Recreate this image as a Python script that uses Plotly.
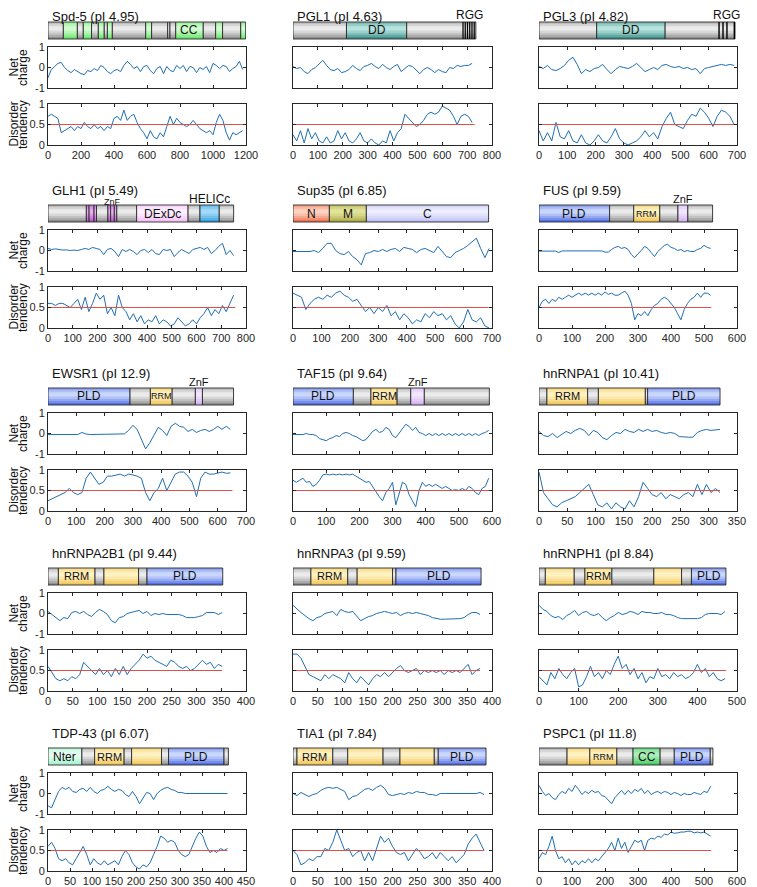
import plotly.graph_objects as go

W, H = 757, 887

# ---------------- data ----------------
NAMES = ["Spd-5", "PGL1", "PGL3", "GLH1", "Sup35", "FUS", "EWSR1", "TAF15", "hnRNPA1",
         "hnRNPA2B1", "hnRNPA3", "hnRNPH1", "TDP-43", "TIA1", "PSPC1"]
PI = ["4.95", "4.63", "4.82", "5.49", "6.85", "9.59", "12.9", "9.64", "10.41",
      "9.44", "9.59", "8.84", "6.07", "7.84", "11.8"]
LENGTHS = [1198, 730, 693, 757, 688, 522, 652, 592, 320, 352, 376, 472, 408, 384, 522]
AXIS_MAX = [1200, 800, 700, 800, 700, 600, 700, 600, 350, 400, 400, 500, 450, 400, 600]
TICK_STEP = [200, 100, 100, 100, 100, 100, 100, 100, 50, 50, 50, 100, 50, 50, 100]
SAMPLE_STEP = [20, 15, 15, 15, 15, 10, 15, 10, 8, 8, 8, 10, 8, 8, 10]

SPD5_NET = [-0.5, -0.1, 0.05, 0.2, 0.25, 0.0, -0.15, -0.25, -0.1, -0.2, -0.3, -0.35, -0.15, -0.2, -0.05,
            -0.15, 0.1, 0.0, -0.2, -0.3, -0.15, -0.1, -0.2, 0.1, 0.3, 0.15, -0.05, 0.05, -0.2, 0.05,
            0.1, -0.15, -0.3, -0.05, 0.05, -0.3, 0.05, -0.15, -0.2, 0.1, -0.05, 0.1, -0.2, 0.05, 0.0,
            -0.25, 0.0, -0.1, 0.05, -0.25, 0.2, 0.1, -0.05, 0.1, 0.05, -0.2, -0.05, 0.05, 0.3, -0.1]
SPD5_DIS = [0.7, 0.75, 0.7, 0.65, 0.3, 0.35, 0.4, 0.45, 0.35, 0.45, 0.4, 0.55, 0.45, 0.4, 0.5, 0.4,
            0.45, 0.35, 0.45, 0.4, 0.65, 0.7, 0.6, 0.85, 0.6, 0.7, 0.75, 0.55, 0.4, 0.3, 0.15, 0.35,
            0.2, 0.15, 0.3, 0.2, 0.45, 0.7, 0.5, 0.65, 0.55, 0.5, 0.45, 0.5, 0.6, 0.5, 0.4, 0.35, 0.3,
            0.35, 0.25, 0.55, 0.75, 0.6, 0.3, 0.12, 0.3, 0.25, 0.3, 0.35]

PGL1_NET = [0.05, -0.05, 0.0, -0.2, -0.3, -0.1, 0.0, 0.2, 0.35, 0.1, -0.1, -0.15, -0.05, -0.25, -0.2,
            -0.1, 0.1, -0.05, -0.15, 0.05, 0.1, 0.2, 0.05, -0.05, 0.15, 0.0, -0.1, 0.05, 0.15, -0.2,
            -0.05, 0.1, 0.05, -0.15, -0.3, -0.1, 0.0, -0.1, -0.25, -0.1, -0.2, -0.25, 0.0, -0.05, 0.1,
            0.05, 0.1, 0.1, 0.2]
PGL1_DIS = [0.25, 0.1, 0.35, 0.05, 0.4, 0.15, 0.3, 0.1, 0.05, 0.2, 0.05, 0.1, 0.35, 0.15, 0.3, 0.1,
            0.05, 0.15, 0.3, 0.1, 0.05, 0.15, 0.05, 0.0, 0.1, 0.05, 0.35, 0.1, 0.3, 0.4, 0.75, 0.65,
            0.55, 0.45, 0.5, 0.6, 0.75, 0.8, 0.75, 0.8, 0.95, 0.9, 0.85, 0.7, 0.5, 0.7, 0.75, 0.7, 0.55]

PGL3_NET = [0.05, -0.05, 0.1, -0.1, -0.15, -0.05, 0.1, 0.35, 0.5, 0.15, -0.3, -0.1, -0.2, -0.05, 0.0,
            0.15, -0.1, -0.3, -0.1, 0.05, 0.0, -0.05, 0.05, 0.2, 0.0, -0.2, -0.1, 0.0, -0.1, 0.1, 0.15,
            0.05, 0.0, 0.05, -0.05, 0.0, -0.1, -0.05, -0.3, -0.05, 0.0, 0.05, 0.1, 0.15, 0.1, 0.15, 0.1]
PGL3_DIS = [0.35, 0.1, 0.3, 0.1, 0.55, 0.2, 0.15, 0.35, 0.1, 0.05, 0.25, 0.05, 0.0, 0.1, 0.25, 0.1,
            0.05, 0.2, 0.4, 0.15, 0.05, 0.0, 0.05, 0.1, 0.2, 0.35, 0.2, 0.3, 0.15, 0.45, 0.65, 0.8,
            0.5, 0.45, 0.4, 0.6, 0.75, 0.7, 0.9, 0.8, 0.65, 0.45, 0.7, 0.85, 0.8, 0.7, 0.5]

GLH1_NET = [0.1, 0.05, 0.08, 0.05, 0.02, 0.03, 0.0, 0.02, 0.0, 0.05, 0.1, 0.05, 0.15, 0.1, 0.05,
            -0.2, 0.05, 0.1, -0.05, -0.3, 0.05, -0.05, 0.05, -0.05, -0.2, 0.0, 0.05, -0.1, 0.05,
            -0.15, -0.2, 0.05, 0.0, 0.05, -0.3, -0.1, 0.05, -0.05, -0.15, 0.05, 0.1, 0.15, 0.05, 0.15,
            -0.15, 0.0, 0.2, 0.35, -0.2, 0.0, -0.25]
GLH1_DIS = [0.6, 0.6, 0.55, 0.6, 0.6, 0.55, 0.5, 0.6, 0.7, 0.45, 0.75, 0.4, 0.6, 0.85, 0.7, 0.8,
            0.35, 0.5, 0.3, 0.8, 0.5, 0.4, 0.2, 0.35, 0.15, 0.3, 0.1, 0.2, 0.15, 0.3, 0.1, 0.2, 0.15,
            0.05, 0.1, 0.25, 0.15, 0.05, 0.1, 0.2, 0.1, 0.25, 0.35, 0.5, 0.3, 0.45, 0.35, 0.55, 0.4,
            0.6, 0.8]

SUP35_NET = [-0.05, -0.05, -0.05, -0.07, -0.05, 0.0, -0.1, 0.1, 0.35, 0.35, 0.0, -0.15, -0.2, -0.05,
             -0.3, -0.45, -0.7, -0.15, -0.1, 0.0, -0.05, 0.05, -0.05, 0.05, 0.1, -0.05, 0.15, 0.1,
             0.05, -0.1, 0.05, 0.1, 0.0, -0.1, 0.2, -0.05, -0.3, -0.35, -0.1, 0.0, 0.1, 0.25, 0.45,
             0.6, 0.1, -0.35, 0.1]
SUP35_DIS = [0.85, 0.8, 0.75, 0.45, 0.6, 0.7, 0.75, 0.7, 0.8, 0.75, 0.85, 0.9, 0.8, 0.75, 0.65, 0.7,
             0.55, 0.4, 0.5, 0.35, 0.5, 0.4, 0.55, 0.3, 0.4, 0.2, 0.35, 0.25, 0.1, 0.2, 0.15, 0.35,
             0.25, 0.4, 0.3, 0.35, 0.2, 0.3, 0.1, 0.0, 0.15, 0.45, 0.2, 0.15, 0.25, 0.05, 0.0]

FUS_NET = [-0.03, -0.03, -0.03, -0.03, -0.03, -0.03, -0.1, -0.02, -0.02, -0.02, -0.02, -0.02, -0.02,
           -0.02, -0.02, -0.02, -0.02, -0.02, -0.02, -0.02, -0.08, -0.08, 0.05, 0.15, 0.2, 0.1, 0.15,
           0.05, -0.2, -0.35, -0.15, 0.0, 0.2, 0.1, -0.1, -0.3, -0.05, 0.1, 0.25, 0.3, 0.15, 0.1, 0.0,
           0.05, -0.05, 0.0, -0.05, -0.05, 0.05, 0.1, 0.25, 0.15, 0.1]
FUS_DIS = [0.5, 0.65, 0.7, 0.6, 0.7, 0.65, 0.75, 0.7, 0.75, 0.8, 0.75, 0.8, 0.85, 0.8, 0.85, 0.8,
           0.85, 0.8, 0.85, 0.8, 0.88, 0.82, 0.85, 0.8, 0.8, 0.85, 0.9, 0.8, 0.6, 0.2, 0.35, 0.3, 0.4,
           0.3, 0.45, 0.55, 0.6, 0.7, 0.75, 0.7, 0.6, 0.5, 0.35, 0.2, 0.45, 0.6, 0.7, 0.75, 0.85, 0.75,
           0.85, 0.85, 0.8]

EWSR1_NET = [-0.05, -0.05, -0.05, -0.02, -0.05, -0.05, -0.05, -0.05, 0.05, -0.03, -0.05, -0.05,
             -0.05, -0.03, -0.05, -0.05, -0.05, -0.05, -0.02, 0.15, 0.4, 0.2, -0.3, -0.75, -0.45,
             -0.1, 0.3, 0.15, -0.1, 0.35, 0.5, 0.35, 0.3, 0.1, 0.2, 0.05, 0.15, 0.2, 0.1, 0.2, 0.35,
             0.2, 0.35, 0.2]
EWSR1_DIS = [0.25, 0.3, 0.35, 0.4, 0.45, 0.55, 0.45, 0.4, 0.45, 0.8, 0.95, 0.8, 0.65, 0.7, 0.85,
             0.85, 0.88, 0.9, 0.85, 0.9, 0.88, 0.85, 0.8, 0.45, 0.25, 0.45, 0.55, 0.8, 0.5, 0.7, 0.9,
             0.95, 0.95, 0.85, 0.7, 0.35, 0.8, 0.95, 0.9, 0.9, 0.92, 0.95, 0.92, 0.93]

TAF15_NET = [-0.05, -0.05, -0.03, -0.05, 0.0, -0.05, -0.05, -0.1, -0.25, -0.3, -0.35, -0.25, -0.2,
             -0.1, -0.15, 0.0, 0.05, 0.0, -0.1, -0.15, -0.25, -0.35, -0.3, -0.1, 0.1, 0.2, 0.05, 0.1,
             0.3, 0.2, -0.1, -0.2, 0.0, 0.2, 0.45, 0.35, 0.15, 0.3, 0.05, 0.0, -0.1, 0.0, -0.1, 0.0,
             -0.1, 0.0, -0.1, 0.0, -0.1, 0.0, -0.1, 0.0, -0.1, 0.0, -0.1, 0.0, -0.1, 0.0, 0.05, 0.15]
TAF15_DIS = [0.75, 0.7, 0.75, 0.8, 0.7, 0.72, 0.6, 0.65, 0.75, 0.88, 0.9, 0.88, 0.9, 0.88, 0.9, 0.88,
             0.9, 0.88, 0.9, 0.85, 0.82, 0.75, 0.7, 0.72, 0.6, 0.45, 0.35, 0.25, 0.45, 0.55, 0.7,
             0.15, 0.45, 0.7, 0.65, 0.4, 0.25, 0.1, 0.5, 0.7, 0.6, 0.65, 0.6, 0.65, 0.6, 0.55, 0.6,
             0.55, 0.5, 0.52, 0.5, 0.55, 0.5, 0.6, 0.55, 0.45, 0.4, 0.55, 0.6, 0.8]

HNRNPA1_NET = [0.1, -0.1, -0.15, 0.0, -0.2, -0.05, 0.1, 0.0, 0.15, 0.25, 0.15, -0.1, 0.15, 0.05,
               -0.2, -0.3, -0.1, 0.05, 0.0, 0.2, 0.1, 0.05, 0.2, 0.1, 0.2, 0.1, 0.15, 0.05, 0.0,
               0.05, 0.0, -0.15, -0.18, -0.18, -0.18, 0.05, 0.15, 0.2, 0.15, 0.18, 0.2]
HNRNPA1_DIS = [0.95, 0.45, 0.3, 0.15, 0.1, 0.2, 0.25, 0.3, 0.35, 0.45, 0.55, 0.65, 0.4, 0.15, 0.1,
               0.2, 0.05, 0.2, 0.1, 0.05, 0.25, 0.1, 0.35, 0.7, 0.55, 0.4, 0.35, 0.45, 0.3, 0.4,
               0.35, 0.3, 0.4, 0.45, 0.35, 0.65, 0.4, 0.65, 0.45, 0.55, 0.45]

HNRNPA2B1_NET = [0.1, -0.05, -0.2, -0.35, -0.2, -0.25, 0.05, 0.1, 0.0, 0.1, -0.05, -0.15, 0.05, 0.2,
                 0.1, -0.05, -0.35, -0.45, -0.2, -0.15, 0.0, 0.05, 0.1, 0.15, 0.0, 0.1, -0.1, 0.0,
                 -0.05, 0.0, -0.05, -0.05, -0.05, -0.05, -0.1, -0.2, -0.2, -0.2, -0.15, -0.1, 0.05,
                 0.05, 0.05, -0.05, 0.05]
HNRNPA2B1_DIS = [0.6, 0.45, 0.3, 0.25, 0.3, 0.25, 0.35, 0.3, 0.4, 0.7, 0.6, 0.5, 0.4, 0.55, 0.4, 0.5,
                 0.35, 0.55, 0.4, 0.6, 0.4, 0.55, 0.65, 0.75, 0.9, 0.8, 0.85, 0.75, 0.7, 0.65, 0.6,
                 0.75, 0.7, 0.6, 0.55, 0.6, 0.5, 0.55, 0.65, 0.75, 0.65, 0.7, 0.55, 0.65, 0.6]

HNRNPA3_NET = [0.4, 0.2, 0.05, -0.1, -0.25, -0.35, -0.2, -0.15, 0.0, 0.05, 0.1, -0.1, 0.2, 0.1, 0.05,
               0.1, -0.1, -0.35, -0.25, -0.15, -0.1, 0.0, 0.05, 0.1, 0.05, 0.0, 0.05, -0.1, 0.0, 0.05,
               0.0, 0.05, 0.0, -0.05, -0.1, -0.2, -0.25, -0.28, -0.28, -0.28, -0.25, -0.28, -0.25,
               -0.2, -0.05, 0.05, 0.05, -0.05]
HNRNPA3_DIS = [0.9, 0.9, 0.8, 0.6, 0.4, 0.35, 0.3, 0.25, 0.4, 0.3, 0.4, 0.35, 0.3, 0.2, 0.45, 0.3,
               0.2, 0.35, 0.25, 0.15, 0.3, 0.4, 0.35, 0.45, 0.35, 0.45, 0.55, 0.62, 0.5, 0.45, 0.5,
               0.55, 0.4, 0.5, 0.45, 0.5, 0.45, 0.5, 0.4, 0.5, 0.45, 0.5, 0.45, 0.55, 0.65, 0.4, 0.5,
               0.55]

HNRNPH1_NET = [0.4, 0.2, 0.1, -0.1, -0.2, -0.15, -0.3, -0.1, 0.0, 0.15, -0.1, 0.05, 0.1, -0.05, -0.1,
               0.0, -0.2, -0.35, -0.2, -0.1, 0.05, -0.05, 0.0, 0.1, 0.05, -0.05, 0.1, 0.05, 0.05, 0.0,
               0.0, 0.05, -0.05, -0.05, -0.1, -0.2, -0.25, -0.25, -0.25, -0.25, -0.25, -0.2, -0.05,
               0.0, 0.0, 0.0, -0.05, 0.1]
HNRNPH1_DIS = [0.35, 0.25, 0.15, 0.45, 0.3, 0.55, 0.4, 0.3, 0.45, 0.55, 0.1, 0.15, 0.35, 0.6, 0.35,
               0.45, 0.3, 0.5, 0.4, 0.65, 0.85, 0.55, 0.65, 0.4, 0.55, 0.3, 0.45, 0.2, 0.35, 0.3,
               0.55, 0.35, 0.4, 0.3, 0.45, 0.35, 0.4, 0.3, 0.35, 0.45, 0.65, 0.45, 0.55, 0.35, 0.45,
               0.3, 0.25, 0.3]

TDP43_NET = [-0.6, -0.7, -0.3, 0.1, 0.3, 0.2, 0.3, 0.1, 0.05, 0.2, 0.25, 0.1, 0.3, 0.1, 0.0, 0.15,
             0.2, 0.35, 0.2, 0.1, 0.2, 0.15, -0.05, -0.15, 0.1, -0.15, -0.5, -0.2, 0.05, 0.0, -0.3,
             0.0, 0.15, 0.25, 0.3, 0.2, 0.15, 0.05, 0.05, 0.0, 0.0, 0.0, 0.0, 0.0, 0.02, 0.0, 0.0,
             0.0, 0.0, 0.0, 0.02, 0.0]
TDP43_DIS = [0.6, 0.7, 0.55, 0.3, 0.25, 0.3, 0.2, 0.15, 0.3, 0.45, 0.6, 0.4, 0.15, 0.3, 0.2, 0.15,
             0.25, 0.15, 0.2, 0.25, 0.15, 0.35, 0.5, 0.4, 0.2, 0.1, 0.05, 0.15, 0.1, 0.2, 0.4, 0.6,
             0.85, 0.8, 0.7, 0.75, 0.7, 0.5, 0.4, 0.35, 0.4, 0.6, 0.8, 0.95, 0.85, 0.6, 0.45, 0.5,
             0.45, 0.55, 0.5, 0.55]

TIA1_NET = [0.0, -0.1, 0.05, -0.05, -0.15, -0.05, 0.0, 0.15, 0.25, 0.3, 0.25, 0.3, 0.2, 0.1, -0.3,
            -0.15, -0.1, 0.05, 0.2, 0.25, 0.15, 0.3, 0.4, 0.25, -0.05, -0.1, -0.05, 0.0, -0.05, 0.05,
            0.0, 0.1, 0.05, 0.05, -0.05, -0.05, -0.1, 0.0, 0.0, 0.0, 0.0, 0.0, 0.0, 0.0, 0.0, 0.0,
            0.0, 0.05, -0.05]
TIA1_DIS = [0.5, 0.4, 0.15, 0.2, 0.3, 0.25, 0.35, 0.35, 0.55, 0.5, 0.7, 1.0, 0.75, 0.5, 0.55, 0.35,
            0.45, 0.5, 0.25, 0.45, 0.25, 0.55, 0.85, 0.7, 0.8, 0.6, 0.45, 0.4, 0.45, 0.25, 0.4, 0.55,
            0.45, 0.3, 0.35, 0.45, 0.3, 0.45, 0.35, 0.25, 0.35, 0.2, 0.3, 0.4, 0.65, 0.8, 0.9, 0.7,
            0.5]

PSPC1_NET = [0.4, 0.1, -0.1, 0.0, -0.2, -0.3, -0.05, 0.1, 0.0, 0.25, 0.1, 0.4, 0.2, -0.05, 0.1, 0.0,
             0.15, 0.05, 0.1, -0.1, -0.15, -0.3, -0.5, -0.2, 0.0, 0.15, -0.05, 0.15, 0.0, 0.2, 0.1,
             0.25, 0.0, 0.15, -0.05, 0.05, 0.1, 0.0, 0.1, 0.05, -0.05, 0.05, 0.0, -0.1, 0.0, -0.05,
             -0.05, 0.05, 0.0, -0.05, 0.1, 0.05, 0.35]
PSPC1_DIS = [0.3, 0.45, 0.4, 0.6, 0.85, 0.5, 0.3, 0.35, 0.2, 0.3, 0.15, 0.25, 0.15, 0.25, 0.2, 0.3,
             0.2, 0.3, 0.25, 0.35, 0.45, 0.55, 0.7, 0.5, 0.8, 0.55, 0.7, 0.45, 0.6, 0.75, 0.7, 0.75,
             0.5, 0.75, 0.8, 0.78, 0.85, 0.82, 0.9, 0.88, 0.95, 0.92, 0.93, 0.95, 0.95, 0.97, 0.97,
             0.93, 0.95, 0.93, 0.95, 0.9, 0.85]

NET = [SPD5_NET, PGL1_NET, PGL3_NET, GLH1_NET, SUP35_NET, FUS_NET, EWSR1_NET, TAF15_NET,
       HNRNPA1_NET, HNRNPA2B1_NET, HNRNPA3_NET, HNRNPH1_NET, TDP43_NET, TIA1_NET, PSPC1_NET]
DIS = [SPD5_DIS, PGL1_DIS, PGL3_DIS, GLH1_DIS, SUP35_DIS, FUS_DIS, EWSR1_DIS, TAF15_DIS,
       HNRNPA1_DIS, HNRNPA2B1_DIS, HNRNPA3_DIS, HNRNPH1_DIS, TDP43_DIS, TIA1_DIS, PSPC1_DIS]

# domain architecture: (start, end, kind, label)
SPD5_DOM = [(0, 93, "gray", ""), (93, 178, "green", ""), (178, 214, "gray", ""), (214, 264, "green", ""),
            (264, 305, "gray", ""), (305, 341, "green", ""), (341, 360, "gray", ""), (360, 390, "green", ""),
            (390, 592, "gray", ""), (592, 628, "green", ""), (628, 725, "gray", ""), (725, 739, "gray", ""),
            (739, 774, "gray", ""), (774, 941, "green", "CC"), (941, 1016, "gray", ""),
            (1016, 1058, "green", ""), (1058, 1168, "gray", ""), (1168, 1198, "green", "")]
PGL1_DOM = [(0, 215, "gray", ""), (215, 457, "dd", "DD"), (457, 735, "gray", ""),
            (681, 686, "rgg", ""), (690, 695, "rgg", ""), (699, 704, "rgg", ""), (708, 713, "rgg", ""),
            (717, 722, "rgg", ""), (726, 731, "rgg", ""), (686, 736, "label", "RGG")]
PGL3_DOM = [(0, 204, "gray", ""), (204, 446, "dd", "DD"), (446, 693, "gray", ""),
            (634, 639, "rgg", ""), (648, 653, "rgg", ""), (662, 667, "rgg", ""), (688, 693, "rgg", ""),
            (630, 696, "label", "RGG")]
GLH1_DOM = [(0, 155, "gray", ""), (155, 166, "znfg", ""), (166, 186, "znfg", ""), (186, 196, "znfg", ""),
            (196, 242, "gray", ""), (242, 253, "znfg", ""), (253, 268, "znfg", ""), (268, 278, "znfg", ""),
            (278, 358, "gray", ""), (358, 566, "dexdc", "DExDc"), (566, 614, "gray", ""),
            (614, 692, "helicc", "HELICc"), (692, 750, "gray", ""), (244, 276, "label", "ZnF")]
SUP35_DOM = [(0, 128, "n", "N"), (128, 258, "m", "M"), (258, 688, "c", "C")]
FUS_DOM = [(0, 214, "pld", "PLD"), (214, 287, "gray", ""), (287, 366, "rrm", "RRM"), (366, 421, "gray", ""),
           (421, 451, "znf", "ZnF"), (451, 526, "gray", "")]
EWSR1_DOM = [(0, 290, "pld", "PLD"), (290, 362, "gray", ""), (362, 439, "rrm", "RRM"),
             (439, 521, "gray", ""), (521, 546, "znf", "ZnF"), (546, 656, "gray", "")]
TAF15_DOM = [(0, 182, "pld", "PLD"), (182, 235, "gray", ""), (235, 314, "rrm", "RRM"),
             (314, 355, "gray", ""), (355, 396, "znf", "ZnF"), (396, 592, "gray", "")]
HNRNPA1_DOM = [(0, 14, "gray", ""), (14, 86, "rrm", "RRM"), (86, 105, "gray", ""), (105, 188, "rrm", ""),
               (188, 192, "gray", ""), (192, 320, "pld", "PLD")]
HNRNPA2B1_DOM = [(0, 21, "gray", ""), (21, 95, "rrm", "RRM"), (95, 113, "gray", ""), (113, 183, "rrm", ""),
                 (183, 200, "gray", ""), (200, 353, "pld", "PLD")]
HNRNPA3_DOM = [(0, 36, "gray", ""), (36, 110, "rrm", "RRM"), (110, 129, "gray", ""), (129, 200, "rrm", ""),
               (200, 207, "gray", ""), (207, 378, "pld", "PLD")]
HNRNPH1_DOM = [(0, 16, "gray", ""), (16, 89, "rrm", ""), (89, 116, "gray", ""), (116, 184, "rrm", "RRM"),
               (184, 290, "gray", ""), (290, 360, "rrm", ""), (360, 385, "gray", ""), (385, 472, "pld", "PLD")]
TDP43_DOM = [(0, 77, "nter", "Nter"), (77, 106, "gray", ""), (106, 173, "rrm", "RRM"), (173, 190, "gray", ""),
             (190, 258, "rrm", ""), (258, 274, "gray", ""), (274, 400, "pld", "PLD"), (400, 410, "gray", "")]
TIA1_DOM = [(0, 8, "gray", ""), (8, 80, "rrm", "RRM"), (80, 110, "gray", ""), (110, 181, "rrm", ""),
            (181, 215, "gray", ""), (215, 284, "rrm", ""), (284, 292, "gray", ""), (292, 388, "pld", "PLD")]
PSPC1_DOM = [(0, 85, "gray", ""), (85, 154, "rrm", ""), (154, 236, "rrm", "RRM"), (236, 285, "gray", ""),
             (285, 367, "cc", "CC"), (367, 410, "gray", ""), (410, 519, "pld", "PLD"), (519, 527, "gray", "")]

DOMAINS = [SPD5_DOM, PGL1_DOM, PGL3_DOM, GLH1_DOM, SUP35_DOM, FUS_DOM, EWSR1_DOM, TAF15_DOM,
           HNRNPA1_DOM, HNRNPA2B1_DOM, HNRNPA3_DOM, HNRNPH1_DOM, TDP43_DOM, TIA1_DOM, PSPC1_DOM]

# ---------------- style / layout (window pixel positions) ----------------
FONT = "Liberation Sans, Arial, sans-serif"
BLUE = "#1f6fb2"
RED = "#e0504a"
AXC = "#262626"
OX, OY = 8, 8            # page offset of the plot div inside the browser window
COLS = [(48, 246), (293, 492), (539, 737)]
ROW_TOP = [0, 183, 366, 546, 726]
BAR = (22, 39)
NET_BOX = (47, 88)
DIS_BOX = (104, 145)
PALETTE = {
    "gray": ("#7c7c7c", "#f5f5f5"),
    "green": ("#52e052", "#dcffdc"),
    "dd": ("#22807a", "#c4ebe6"),
    "znfg": ("#a640b8", "#eeb6f4"),
    "znf": ("#cca4ee", "#f5eaff"),
    "dexdc": ("#f0b6f0", "#fff2ff"),
    "helicc": ("#1c94dc", "#aee0fb"),
    "n": ("#e8603c", "#ffdccc"),
    "m": ("#a0a032", "#e8e8a4"),
    "c": ("#b6b6f6", "#f2f2ff"),
    "pld": ("#3a5ce0", "#d6e2ff"),
    "rrm": ("#f0bc40", "#fff6cc"),
    "nter": ("#98eec6", "#ecfff6"),
    "cc": ("#2ec44e", "#b6f2c4"),
}
SMALL_RRM = {"FUS", "EWSR1", "PSPC1"}
NB = 8


def PX(x):
    return (x - OX) / W


def PY(y):
    return 1 - (y - OY) / H


def hx(c):
    return tuple(int(c[i:i + 2], 16) for i in (1, 3, 5))


def blend(a, b, f):
    ca, cb = hx(a), hx(b)
    return "rgb(%d,%d,%d)" % tuple(round(ca[i] + (cb[i] - ca[i]) * f) for i in range(3))


def sfx(k):
    return "" if k == 1 else str(k)


fig = go.Figure()
shapes, annotations, layout_axes = [], [], {}

for p in range(len(NAMES)):
    row, col = divmod(p, 3)
    R = ROW_TOP[row]
    c0, c1 = COLS[col]
    kn, kd = 2 * p + 1, 2 * p + 2
    xdom = [PX(c0), PX(c1)]
    ndom = [PY(R + NET_BOX[1]), PY(R + NET_BOX[0])]
    ddom = [PY(R + DIS_BOX[1]), PY(R + DIS_BOX[0])]

    common = dict(showline=True, linecolor=AXC, linewidth=1, mirror="ticks", ticks="inside",
                  ticklen=3, tickcolor=AXC, tickwidth=1, zeroline=False, showgrid=False,
                  automargin=False, tickfont=dict(family=FONT, size=11, color=AXC))
    xcommon = dict(common, range=[0, AXIS_MAX[p]], tick0=0, dtick=TICK_STEP[p])
    layout_axes["xaxis" + sfx(kn)] = dict(xcommon, domain=xdom, anchor="y" + sfx(kn), showticklabels=False)
    layout_axes["xaxis" + sfx(kd)] = dict(xcommon, domain=xdom, anchor="y" + sfx(kd), showticklabels=True)
    layout_axes["yaxis" + sfx(kn)] = dict(common, domain=ndom, anchor="x" + sfx(kn), range=[-1, 1],
                                          tickvals=[-1, 0, 1], ticktext=["-1", "0", "1"],
                                          showticklabels=(col == 0))
    layout_axes["yaxis" + sfx(kd)] = dict(common, domain=ddom, anchor="x" + sfx(kd), range=[0, 1],
                                          tickvals=[0, 0.5, 1], ticktext=["0", "0.5", "1"],
                                          showticklabels=(col == 0))

    xs_n = [i * SAMPLE_STEP[p] for i in range(len(NET[p]))]
    xs_d = [i * SAMPLE_STEP[p] for i in range(len(DIS[p]))]
    fig.add_trace(go.Scatter(x=xs_n, y=NET[p], xaxis="x" + sfx(kn), yaxis="y" + sfx(kn), mode="lines",
                             line=dict(color=BLUE, width=1), showlegend=False, hoverinfo="skip"))
    fig.add_trace(go.Scatter(x=xs_d, y=DIS[p], xaxis="x" + sfx(kd), yaxis="y" + sfx(kd), mode="lines",
                             line=dict(color=BLUE, width=1), showlegend=False, hoverinfo="skip"))
    fig.add_trace(go.Scatter(x=[0, LENGTHS[p]], y=[0.5, 0.5], xaxis="x" + sfx(kd), yaxis="y" + sfx(kd),
                             mode="lines", line=dict(color=RED, width=1.1), showlegend=False,
                             hoverinfo="skip"))

    # title (kept inside the figure at the very top)
    ty = max(R + 7.5, OY + 8.5)
    annotations.append(dict(text=f"{NAMES[p]} (pI {PI[p]})", xref="paper", yref="paper",
                            x=PX(c0 + 2), y=PY(ty), xanchor="left", yanchor="middle",
                            showarrow=False, font=dict(family=FONT, size=13, color="#111")))
    if col == 0:
        for word, xc, box in (("Net", 13, NET_BOX), ("charge", 22.5, NET_BOX),
                              ("Disorder", 13, DIS_BOX), ("tendency", 22.5, DIS_BOX)):
            annotations.append(dict(text=word, xref="paper", yref="paper", x=PX(xc),
                                    y=PY(R + (box[0] + box[1]) / 2), textangle=-90, showarrow=False,
                                    xanchor="center", yanchor="middle",
                                    font=dict(family=FONT, size=12, color="#111")))

    # domain bar
    yb0 = PY(R + BAR[1])
    yb1 = PY(R + BAR[0])
    xr = "x" + sfx(kn)
    for (s, e, kind, lab) in DOMAINS[p]:
        if kind == "label":
            small = NAMES[p] == "GLH1"
            annotations.append(dict(text=lab, xref=xr, yref="paper", x=(s + e) / 2,
                                    y=PY(R + (18.5 if small else 15)), showarrow=False,
                                    xanchor="center", yanchor="middle",
                                    font=dict(family=FONT, size=9 if small else 12, color="#111")))
            continue
        if kind == "rgg":
            shapes.append(dict(type="rect", xref=xr, yref="paper", x0=s, x1=e, y0=yb0, y1=yb1,
                               fillcolor="#000", line=dict(width=0), layer="above"))
            continue
        edge, cen = PALETTE[kind]
        for k in range(NB):
            t = (k + 0.5) / NB
            f = max(0.0, 1 - abs(t - 0.62) / 0.62) ** 0.8
            y0 = yb0 + (yb1 - yb0) * k / NB
            y1 = yb0 + (yb1 - yb0) * (k + 1) / NB + 0.45 / H
            shapes.append(dict(type="rect", xref=xr, yref="paper", x0=s, x1=e, y0=y0, y1=min(y1, yb1),
                               fillcolor=blend(edge, cen, f), line=dict(width=0), layer="above"))
        shapes.append(dict(type="rect", xref=xr, yref="paper", x0=s, x1=e, y0=yb0, y1=yb1,
                           fillcolor="rgba(0,0,0,0)", line=dict(color="#2a2a2a", width=0.9),
                           layer="above"))
        if lab:
            if kind in ("znf", "helicc"):
                annotations.append(dict(text=lab, xref=xr, yref="paper", x=(s + e) / 2,
                                        y=PY(R + 16), showarrow=False, xanchor="center",
                                        yanchor="middle",
                                        font=dict(family=FONT, size=12 if kind == "helicc" else 11,
                                                  color="#111")))
            else:
                fs = 12
                if lab == "RRM":
                    fs = 9 if NAMES[p] in SMALL_RRM else 11
                annotations.append(dict(text=lab, xref=xr, yref="paper", x=(s + e) / 2,
                                        y=(yb0 + yb1) / 2, showarrow=False, xanchor="center",
                                        yanchor="middle", font=dict(family=FONT, size=fs, color="#111")))

fig.update_layout(width=W, height=H, margin=dict(l=0, r=0, t=0, b=0, pad=0), paper_bgcolor="white",
                  plot_bgcolor="white", shapes=shapes, annotations=annotations, showlegend=False,
                  **layout_axes)
fig.write_html("out.html")
